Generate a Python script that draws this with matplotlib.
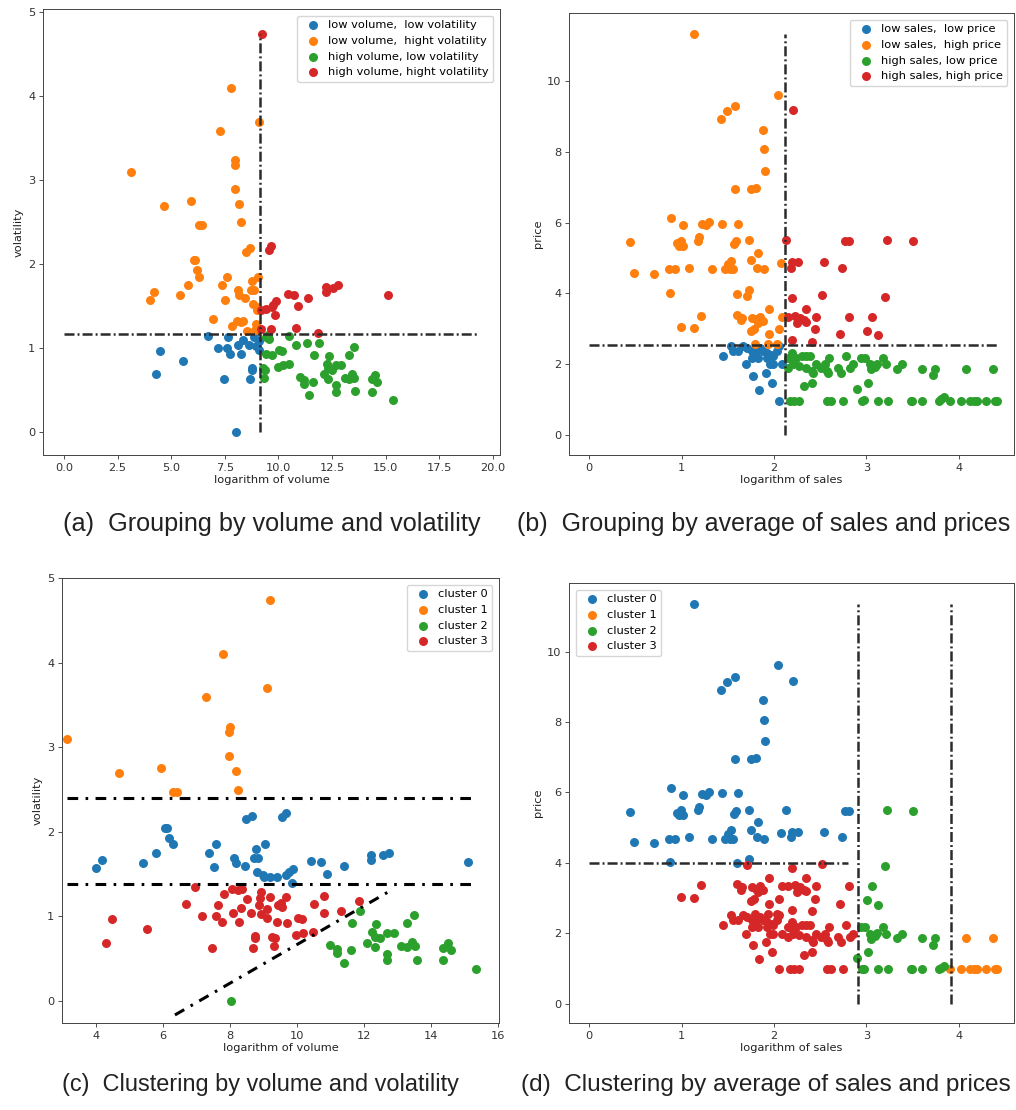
import matplotlib
matplotlib.use('Agg')
import matplotlib.pyplot as plt
import numpy as np

plt.rcParams['lines.scale_dashes'] = False
plt.rcParams['font.family'] = ['DejaVu Sans']

# ---------------- volume / volatility data (by k-means cluster) ----------------
vol_c0_x = [3.99, 4.19, 5.41, 5.79, 6.07, 6.13, 6.18, 6.29, 7.39, 7.60, 7.53, 8.12, 8.17, 8.44,
            8.48, 8.66, 8.77, 8.72, 8.84, 9.04, 8.80, 8.99, 9.01, 9.20, 9.42, 9.54, 9.66, 9.68,
            9.75, 9.88, 9.84, 10.43, 10.71, 10.89, 11.40, 12.20, 12.20, 12.56, 12.76, 15.10]
vol_c0_y = [1.57, 1.67, 1.63, 1.75, 2.05, 2.05, 1.93, 1.85, 1.75, 1.85, 1.58, 1.69, 1.63, 1.60,
            2.15, 2.19, 1.80, 1.69, 1.69, 1.85, 1.53, 1.49, 1.46, 1.46, 1.47, 2.17, 2.22, 1.49,
            1.52, 1.56, 1.40, 1.65, 1.64, 1.50, 1.60, 1.73, 1.67, 1.72, 1.75, 1.64]
vol_c1_x = [9.21, 7.78, 9.10, 7.28, 3.14, 7.99, 7.96, 7.96, 4.68, 5.94, 8.17, 6.29, 6.43, 8.24]
vol_c1_y = [4.74, 4.10, 3.70, 3.59, 3.10, 3.24, 3.18, 2.90, 2.70, 2.76, 2.72, 2.47, 2.47, 2.50]
vol_c2_x = [11.89, 11.65, 10.99, 11.20, 11.20, 11.41, 11.60, 12.35, 12.24, 12.32, 12.48, 12.10,
            12.32, 12.70, 12.90, 12.70, 12.70, 13.28, 13.50, 13.10, 13.27, 13.42, 13.51, 13.59,
            14.37, 14.50, 14.61, 14.36, 15.34, 8.03]
vol_c2_y = [1.06, 0.92, 0.66, 0.62, 0.57, 0.45, 0.60, 0.91, 0.81, 0.76, 0.74, 0.69,
            0.64, 0.80, 0.80, 0.56, 0.48, 0.92, 1.02, 0.65, 0.64, 0.70, 0.65, 0.49,
            0.63, 0.68, 0.60, 0.48, 0.38, 0.00]
vol_c3_x = [6.95, 6.70, 7.16, 4.49, 5.54, 4.30, 7.46, 7.81, 7.64, 7.60, 7.75, 8.05, 8.25, 8.35,
            8.09, 8.27, 8.34, 8.52, 8.62, 8.93, 8.89, 8.86, 8.93, 9.10, 9.10, 9.19, 9.44, 9.51,
            9.55, 9.41, 9.66, 9.70, 8.76, 8.76, 8.68, 9.26, 9.35, 9.31, 9.97, 10.03, 10.15,
            10.19, 10.49, 10.50, 10.80, 10.81, 11.33, 11.85]
vol_c3_y = [1.35, 1.15, 1.00, 0.97, 0.85, 0.69, 0.63, 1.26, 1.13, 1.00, 0.93, 1.32, 1.31, 1.32,
            1.04, 0.93, 1.10, 1.21, 1.04, 1.29, 1.22, 1.13, 1.03, 1.09, 0.98, 1.23, 1.13, 1.16,
            1.11, 0.93, 1.23, 0.92, 0.77, 0.74, 0.63, 0.76, 0.74, 0.65, 0.78, 0.98, 0.97,
            0.80, 0.81, 1.15, 1.24, 1.04, 1.06, 1.18]

# ---------------- sales / price data (by k-means cluster) ----------------
sal_c0_x = [1.13, 2.04, 2.21, 1.43, 1.49, 1.58, 1.88, 1.89, 1.90, 1.58, 1.75, 1.81, 0.88, 1.01,
            1.22, 1.26, 1.30, 1.44, 1.61, 0.44, 0.48, 0.70, 0.86, 0.93, 0.95, 0.99, 1.02, 0.97,
            1.08, 1.19, 1.18, 1.33, 1.47, 1.50, 1.54, 1.52, 1.56, 1.57, 1.59, 1.73, 1.75, 1.83,
            1.82, 1.89, 0.87, 1.60, 1.73, 2.08, 2.18, 2.20, 2.26, 2.13, 2.77, 2.81, 2.54, 2.74]
sal_c0_y = [11.35, 9.61, 9.18, 8.92, 9.15, 9.29, 8.63, 8.07, 7.47, 6.95, 6.95, 6.98, 6.14, 5.94,
            5.95, 5.94, 6.02, 5.97, 5.97, 5.44, 4.59, 4.55, 4.69, 4.69, 5.43, 5.49, 5.35, 5.35,
            4.72, 5.59, 5.49, 4.69, 4.69, 4.83, 4.92, 4.69, 4.69, 5.40, 5.47, 5.51, 4.94, 5.15,
            4.72, 4.68, 4.02, 3.99, 4.10, 4.86, 4.72, 4.88, 4.88, 5.51, 5.47, 5.47, 4.89, 4.72]
sal_c1_x = [3.91, 4.03, 4.12, 4.17, 4.20, 4.30, 4.39, 4.42, 4.08, 4.37]
sal_c1_y = [0.97, 0.97, 0.97, 0.97, 0.97, 0.97, 0.97, 0.97, 1.86, 1.86]
sal_c2_x = [3.22, 3.51, 3.20, 3.06, 3.01, 3.13, 2.94, 2.99, 3.18, 3.04, 3.09, 3.12, 3.05, 3.21,
            3.39, 3.33, 3.60, 3.74, 3.72, 3.02, 2.90, 2.97, 2.95, 3.13, 3.24, 3.48, 3.50, 3.60,
            3.79, 3.81, 3.84]
sal_c2_y = [5.51, 5.47, 3.90, 3.33, 2.95, 2.81, 2.18, 2.18, 2.18, 1.99, 1.91, 2.01, 1.85, 1.99,
            1.99, 1.86, 1.86, 1.86, 1.68, 1.47, 1.31, 0.99, 0.97, 0.97, 0.97, 0.97, 0.97, 0.97,
            0.97, 1.02, 1.06]
sal_c3_x = [1.71, 1.95, 1.21, 0.99, 1.13, 1.60, 1.65, 1.64, 1.76, 1.81, 1.85, 1.88, 1.83, 1.75,
            1.78, 1.95, 2.05, 2.09, 1.80, 1.94, 2.03,
            2.20, 2.35, 2.15, 2.23, 2.28, 2.32, 2.25, 2.35, 2.45, 2.81, 2.44, 2.71, 2.19, 2.41, 2.52,
            1.54, 1.56, 1.61, 1.66, 1.71, 1.76, 1.80, 1.85, 1.88, 1.92, 1.97, 2.03, 2.06, 1.76,
            1.83, 1.92, 1.99, 1.45, 1.70, 1.96, 1.99, 2.09, 1.77, 1.91, 1.98, 1.84, 2.05,
            2.19, 2.15, 2.21, 2.24, 2.30, 2.35, 2.39, 2.15, 2.21, 2.27, 2.35, 2.41, 2.42, 2.46,
            2.51, 2.55, 2.57, 2.60, 2.59, 2.69, 2.73, 2.78, 2.82, 2.86, 2.32, 2.41, 2.17, 2.22,
            2.27, 2.57, 2.62, 2.75]
sal_c3_y = [3.93, 3.57, 3.37, 3.04, 3.01, 3.39, 3.30, 3.24, 3.30, 3.27, 3.33, 3.22, 3.17, 2.93,
            2.98, 2.84, 2.98, 3.34, 2.56, 2.56, 2.56,
            3.86, 3.57, 3.33, 3.36, 3.30, 3.24, 3.17, 3.20, 3.33, 3.33, 2.98, 2.84, 2.67, 2.63, 3.96,
            2.52, 2.37, 2.37, 2.52, 2.46, 2.37, 2.32, 2.46, 2.37, 2.32, 2.27, 2.37, 2.52, 2.18,
            2.18, 2.18, 2.22, 2.22, 1.99, 1.99, 1.99, 1.99, 1.66, 1.75, 1.47, 1.26, 0.97,
            2.32, 2.18, 2.08, 2.18, 2.22, 2.22, 2.22, 1.89, 1.99, 1.94, 1.89, 1.80, 1.75, 1.99,
            1.89, 1.99, 1.80, 2.18, 1.75, 1.89, 1.75, 2.22, 1.89, 1.99, 1.37, 1.47, 0.97, 0.97,
            0.97, 0.97, 0.97, 0.97]

# thresholds / guide lines
vol_split_x, vol_split_y = 9.16, 1.17
sal_split_x, sal_split_y = 2.12, 2.54
clu_vol_levels = [2.40, 1.38]
clu_vol_diag = ([6.36, 12.86], [-0.165, 1.32])
clu_sal_vlines = [2.905, 3.915]
clu_sal_hline = 4.0

group_labels_a = ['low volume,  low volatility', 'low volume,  hight volatility',
                  'high volume, low volatility', 'high volume, hight volatility']
group_labels_b = ['low sales,  low price', 'low sales,  high price',
                  'high sales, low price', 'high sales, high price']
cluster_labels = ['cluster 0', 'cluster 1', 'cluster 2', 'cluster 3']
captions = ['(a)  Grouping by volume and volatility',
            '(b)  Grouping by average of sales and prices',
            '(c)  Clustering by volume and volatility',
            '(d)  Clustering by average of sales and prices']

COLORS = ['#1f77b4', '#ff7f0e', '#2ca02c', '#d62728']
FS = 8.2
S = 42

W, H = 1016, 1110
fig = plt.figure(figsize=(W / 100, H / 100), dpi=100)


def add_ax(l, t, r, b):
    ax = fig.add_axes([l / W, 1 - b / H, (r - l) / W, (b - t) / H])
    ax.tick_params(labelsize=FS, length=3, width=0.6, pad=2.5, colors='#333333')
    for sp in ax.spines.values():
        sp.set_linewidth(0.7)
        sp.set_color('#444444')
    return ax


thin = dict(color='#2b2b2b', lw=1.8, dashes=(7.2, 2.2, 1.4, 2.2))
thick = dict(color='black', lw=2.2, dashes=(7.7, 5.3, 1.9, 5.3))

vol_x_all = np.array(vol_c0_x + vol_c1_x + vol_c2_x + vol_c3_x)
vol_y_all = np.array(vol_c0_y + vol_c1_y + vol_c2_y + vol_c3_y)
sal_x_all = np.array(sal_c0_x + sal_c1_x + sal_c2_x + sal_c3_x)
sal_y_all = np.array(sal_c0_y + sal_c1_y + sal_c2_y + sal_c3_y)


def quadrants(x, y, sx, sy):
    return [(x < sx) & (y < sy), (x < sx) & (y >= sy), (x >= sx) & (y < sy), (x >= sx) & (y >= sy)]


leg_kw = dict(fontsize=FS, scatterpoints=1, handletextpad=0.3, borderaxespad=0.6)
lab_kw = dict(fontsize=FS, color='#222222')

# ---- (a)
ax = add_ax(43, 9, 500, 455)
for m, lab, c in zip(quadrants(vol_x_all, vol_y_all, vol_split_x, vol_split_y), group_labels_a, COLORS):
    ax.scatter(vol_x_all[m], vol_y_all[m], s=S, c=c, linewidths=0, label=lab)
ax.plot([vol_split_x, vol_split_x], [0, vol_y_all.max()], **thin)
ax.plot([0, 19.3], [vol_split_y, vol_split_y], **thin)
ax.set_xlim(-0.98, 20.33)
ax.set_ylim(-0.27, 5.04)
ax.set_xticks([0, 2.5, 5, 7.5, 10, 12.5, 15, 17.5, 20])
ax.set_xlabel('logarithm of volume', labelpad=2, **lab_kw)
ax.set_ylabel('volatility', labelpad=3, **lab_kw)
ax.legend(loc='upper right', **leg_kw)

# ---- (b)
ax = add_ax(569, 13, 1014, 455)
for m, lab, c in zip(quadrants(sal_x_all, sal_y_all, sal_split_x, sal_split_y), group_labels_b, COLORS):
    ax.scatter(sal_x_all[m], sal_y_all[m], s=S, c=c, linewidths=0, label=lab)
ax.plot([sal_split_x, sal_split_x], [0, sal_y_all.max()], **thin)
ax.plot([0, sal_x_all.max()], [sal_split_y, sal_split_y], **thin)
ax.set_xlim(-0.22, 4.60)
ax.set_ylim(-0.57, 11.93)
ax.set_xticks([0, 1, 2, 3, 4])
ax.set_yticks([0, 2, 4, 6, 8, 10])
ax.set_xlabel('logarithm of sales', labelpad=2, **lab_kw)
ax.set_ylabel('price', labelpad=3, **lab_kw)
ax.legend(loc='upper right', **leg_kw)

# ---- (c)
ax = add_ax(62, 578, 499, 1023)
for xs, ys, lab, c in zip([vol_c0_x, vol_c1_x, vol_c2_x, vol_c3_x], [vol_c0_y, vol_c1_y, vol_c2_y, vol_c3_y],
                          cluster_labels, COLORS):
    ax.scatter(xs, ys, s=S, c=c, linewidths=0, label=lab)
for lv in clu_vol_levels:
    ax.plot([vol_x_all.min(), vol_x_all.max()], [lv, lv], **thick)
ax.plot(clu_vol_diag[0], clu_vol_diag[1], **thick)
ax.set_xlim(2.99, 16.03)
ax.set_ylim(-0.26, 5.0)
ax.set_xticks([4, 6, 8, 10, 12, 14, 16])
ax.set_xlabel('logarithm of volume', labelpad=2, **lab_kw)
ax.set_ylabel('volatility', labelpad=3, **lab_kw)
ax.legend(loc='upper right', **leg_kw)

# ---- (d)
ax = add_ax(569, 583, 1014, 1023)
for xs, ys, lab, c in zip([sal_c0_x, sal_c1_x, sal_c2_x, sal_c3_x], [sal_c0_y, sal_c1_y, sal_c2_y, sal_c3_y],
                          cluster_labels, COLORS):
    ax.scatter(xs, ys, s=S, c=c, linewidths=0, label=lab)
for vx in clu_sal_vlines:
    ax.plot([vx, vx], [0, sal_y_all.max()], **thin)
ax.plot([0, 2.80], [clu_sal_hline, clu_sal_hline], **thin)
ax.set_xlim(-0.22, 4.60)
ax.set_ylim(-0.55, 11.95)
ax.set_xticks([0, 1, 2, 3, 4])
ax.set_yticks([0, 2, 4, 6, 8, 10])
ax.set_xlabel('logarithm of sales', labelpad=2, **lab_kw)
ax.set_ylabel('price', labelpad=3, **lab_kw)
ax.legend(loc='upper left', **leg_kw)

# ---- captions
cap_font = dict(family='Liberation Sans', color='#222222', ha='center', va='center')
fig.text(272 / W, 1 - 524 / H, captions[0], fontsize=18.2, **cap_font)
fig.text(764 / W, 1 - 524 / H, captions[1], fontsize=18.0, **cap_font)
fig.text(260 / W, 1 - 1085 / H, captions[2], fontsize=16.9, **cap_font)
fig.text(766 / W, 1 - 1085 / H, captions[3], fontsize=17.6, **cap_font)

fig.savefig('out.png', dpi=100)
